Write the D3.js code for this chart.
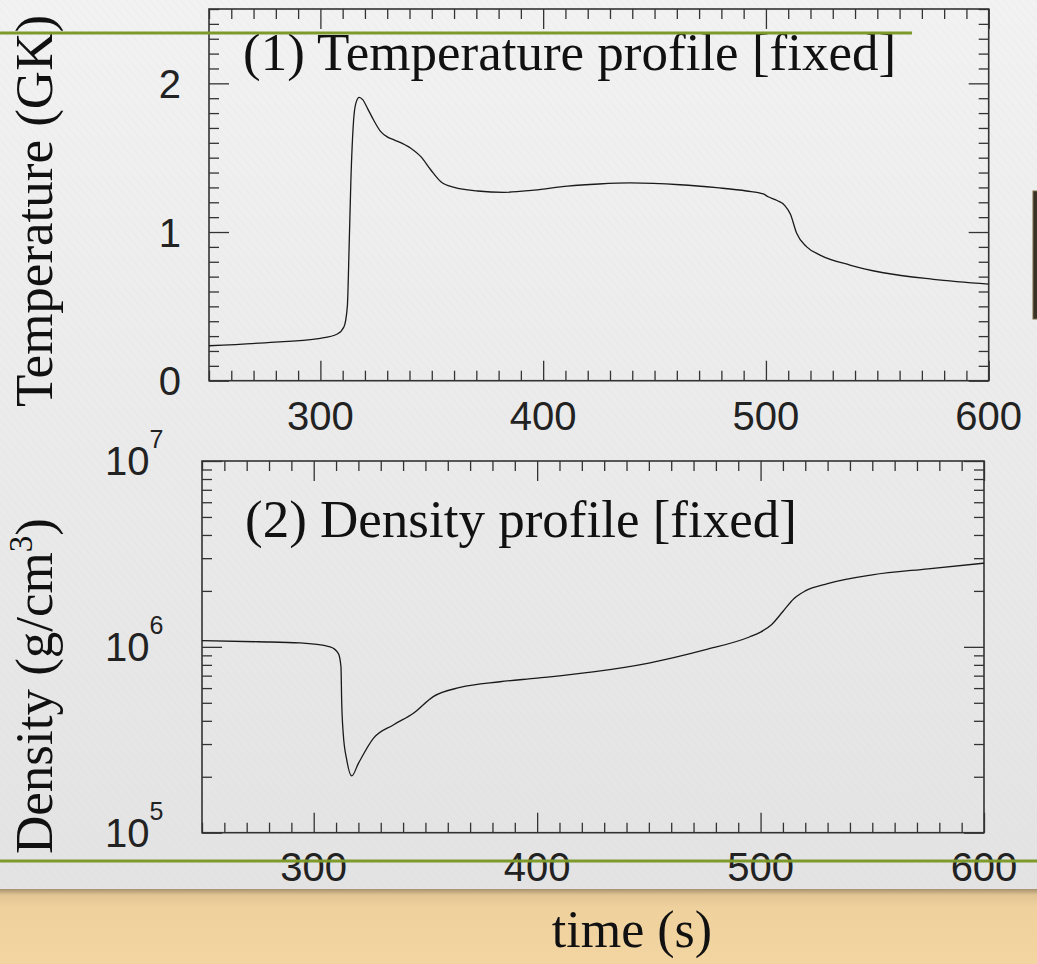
<!DOCTYPE html>
<html><head><meta charset="utf-8">
<script src="https://cdn.jsdelivr.net/npm/d3@7"></script>
<style>html,body{margin:0;padding:0;overflow:hidden;background:#eee}</style>
</head><body><svg id="c" width="1037" height="964"></svg>
<script>
// ---- data ----
const tempTime   = [250, 275, 300, 307.6, 310.6, 312.1, 312.9, 313.7, 314.9, 316, 317.4, 319, 321.2, 324, 327.1, 330, 333.1, 340.6, 345.1, 349.6, 354.1, 360.1, 370.6, 382.5, 396, 411, 425, 439, 461.4, 477.9, 491.3, 498.8, 501, 505, 508.5, 511, 513.8, 518.3, 524.3, 537.7, 552.7, 575.2, 600];
const tempValues = [0.235, 0.255, 0.285, 0.314, 0.363, 0.50, 0.90, 1.35, 1.75, 1.87, 1.906, 1.89, 1.83, 1.75, 1.675, 1.64, 1.62, 1.563, 1.507, 1.417, 1.338, 1.30, 1.276, 1.267, 1.282, 1.309, 1.323, 1.33, 1.318, 1.298, 1.276, 1.256, 1.237, 1.212, 1.178, 1.12, 0.991, 0.90, 0.845, 0.778, 0.726, 0.682, 0.65];
const densTime   = [250, 275, 293.9, 307.3, 311, 312.2, 312.5, 313.2, 314.8, 317, 320, 326.7, 335.6, 344.6, 353.5, 365.5, 383.4, 400, 425, 450, 475, 495, 500, 505, 510, 515, 520, 530, 550, 575, 600];
const densValues = [1.08e6, 1.065e6, 1.05e6, 1.0e6, 9.23e5, 7.82e5, 5.18e5, 3.43e5, 2.46e5, 2.02e5, 2.36e5, 3.22e5, 3.80e5, 4.39e5, 5.40e5, 6.05e5, 6.49e5, 6.79e5, 7.33e5, 8.18e5, 9.62e5, 1.13e6, 1.20e6, 1.32e6, 1.55e6, 1.82e6, 2.0e6, 2.19e6, 2.44e6, 2.63e6, 2.82e6];
const xTickLabels = [300, 400, 500, 600];
const tempTickLabels = [0, 1, 2];
const densTickExps = [5, 6, 7];
const title1 = "(1) Temperature profile [fixed]";
const title2 = "(2) Density profile [fixed]";

const svg = d3.select("#c");
const W = 1037, H = 964;

// ---- background ----
const defs = svg.append("defs");
const bg = defs.append("linearGradient").attr("id","bg").attr("x1",0).attr("y1",0).attr("x2",0).attr("y2",1);
bg.append("stop").attr("offset","0%").attr("stop-color","#f2f2f2");
bg.append("stop").attr("offset","100%").attr("stop-color","#e3e3e3");
const tan = defs.append("linearGradient").attr("id","tan").attr("x1",0).attr("y1",0).attr("x2",0).attr("y2",1);
tan.append("stop").attr("offset","0%").attr("stop-color","#a8916e");
tan.append("stop").attr("offset","8%").attr("stop-color","#e2c594");
tan.append("stop").attr("offset","25%").attr("stop-color","#efd19e");
tan.append("stop").attr("offset","100%").attr("stop-color","#f3d5a2");
const pat = defs.append("pattern").attr("id","tex").attr("width",6).attr("height",6).attr("patternUnits","userSpaceOnUse").attr("patternTransform","rotate(-40)");
pat.append("line").attr("x1",0).attr("y1",0).attr("x2",0).attr("y2",6).attr("stroke","#d8d8d8").attr("stroke-width",1).attr("opacity",0.35);

svg.append("rect").attr("width",W).attr("height",890).attr("fill","url(#bg)");
svg.append("rect").attr("width",W).attr("height",890).attr("fill","url(#tex)");
svg.append("rect").attr("y",889).attr("width",W).attr("height",H-889).attr("fill","url(#tan)");
// dark element at right edge
svg.append("rect").attr("x",1033).attr("y",191).attr("width",8).attr("height",128).attr("fill","#3a3224").attr("stroke","#7a6a4a").attr("stroke-width",1);

const frameColor = "#333", lineColor = "#1a1a1a";
const labelFont = "'Liberation Sans', Arial, sans-serif";
const serif = "'Liberation Serif', 'Times New Roman', serif";

function addTicks(g, axisFn, scale, values, size, transform){
  g.append("g").attr("transform", transform)
    .call(axisFn(scale).tickValues(values).tickSizeInner(-size).tickSizeOuter(0).tickFormat(""))
    .call(s => s.select(".domain").remove())
    .call(s => s.selectAll("line").attr("stroke", frameColor).attr("stroke-width", 1.3));
}

// ---- panel 1: temperature ----
const p1 = {l:209, t:9, r:988.7, b:380.7};
const x1 = d3.scaleLinear().domain([250,600]).range([p1.l,p1.r]);
const y1 = d3.scaleLinear().domain([0,2.5]).range([p1.b,p1.t]);
const g1 = svg.append("g");
const xMinor = d3.range(250, 601, 10).filter(v => v % 100 !== 0);
const xMajor = xTickLabels;
addTicks(g1, d3.axisBottom, x1, xMinor, 10, `translate(0,${p1.b})`);
addTicks(g1, d3.axisBottom, x1, xMajor, 20, `translate(0,${p1.b})`);
addTicks(g1, d3.axisTop, x1, xMinor, 10, `translate(0,${p1.t})`);
addTicks(g1, d3.axisTop, x1, xMajor, 20, `translate(0,${p1.t})`);
const yMinor1 = d3.range(0,26).map(i=>i/10).filter(v => Math.abs(v-Math.round(v))>1e-6);
addTicks(g1, d3.axisLeft, y1, yMinor1, 10, `translate(${p1.l},0)`);
addTicks(g1, d3.axisLeft, y1, tempTickLabels, 20, `translate(${p1.l},0)`);
addTicks(g1, d3.axisRight, y1, yMinor1, 10, `translate(${p1.r},0)`);
addTicks(g1, d3.axisRight, y1, tempTickLabels, 20, `translate(${p1.r},0)`);
g1.append("rect").attr("x",p1.l).attr("y",p1.t).attr("width",p1.r-p1.l).attr("height",p1.b-p1.t)
  .attr("fill","none").attr("stroke",frameColor).attr("stroke-width",1.6);
g1.append("path").datum(tempTime.map((t,i)=>[t,tempValues[i]]))
  .attr("d", d3.line().x(d=>x1(d[0])).y(d=>y1(d[1])).curve(d3.curveMonotoneX))
  .attr("fill","none").attr("stroke",lineColor).attr("stroke-width",1.3);
g1.selectAll("text.xl").data(xTickLabels).join("text").attr("class","xl")
  .attr("x", d=>x1(d)).attr("y", 430).attr("text-anchor","middle")
  .attr("font-family",labelFont).attr("font-size",40).attr("fill","#222").text(d=>d);
g1.selectAll("text.yl").data(tempTickLabels).join("text").attr("class","yl")
  .attr("x", 181).attr("y", d=>y1(d)+14.5).attr("text-anchor","end")
  .attr("font-family",labelFont).attr("font-size",40).attr("fill","#222").text(d=>d);
g1.append("text").attr("x",243).attr("y",70).attr("font-family",serif).attr("font-size",53).attr("fill","#111").text(title1);
g1.append("text").attr("transform","translate(52,211) rotate(-90)").attr("text-anchor","middle")
  .attr("font-family",serif).attr("font-size",53).attr("fill","#111").text("Temperature (GK)");

// ---- panel 2: density ----
const p2 = {l:202, t:461, r:984, b:832.7};
const x2 = d3.scaleLinear().domain([250,600]).range([p2.l,p2.r]);
const y2 = d3.scaleLog().domain([1e5,1e7]).range([p2.b,p2.t]);
const g2 = svg.append("g");
const yMajor2 = densTickExps.map(e => Math.pow(10,e));
const yMinor2 = [];
[1e5,1e6].forEach(b => { for (let k=2;k<=9;k++) yMinor2.push(k*b); });
addTicks(g2, d3.axisBottom, x2, xMinor, 10, `translate(0,${p2.b})`);
addTicks(g2, d3.axisBottom, x2, xMajor, 20, `translate(0,${p2.b})`);
addTicks(g2, d3.axisTop, x2, xMinor, 10, `translate(0,${p2.t})`);
addTicks(g2, d3.axisTop, x2, xMajor, 20, `translate(0,${p2.t})`);
addTicks(g2, d3.axisLeft, y2, yMinor2, 10, `translate(${p2.l},0)`);
addTicks(g2, d3.axisLeft, y2, yMajor2, 20, `translate(${p2.l},0)`);
addTicks(g2, d3.axisRight, y2, yMinor2, 10, `translate(${p2.r},0)`);
addTicks(g2, d3.axisRight, y2, yMajor2, 20, `translate(${p2.r},0)`);
g2.append("rect").attr("x",p2.l).attr("y",p2.t).attr("width",p2.r-p2.l).attr("height",p2.b-p2.t)
  .attr("fill","none").attr("stroke",frameColor).attr("stroke-width",1.6);
g2.append("path").datum(densTime.map((t,i)=>[t,densValues[i]]))
  .attr("d", d3.line().x(d=>x2(d[0])).y(d=>y2(d[1])).curve(d3.curveMonotoneX))
  .attr("fill","none").attr("stroke",lineColor).attr("stroke-width",1.3);

// bottom green line (behind labels)
svg.append("rect").attr("x",0).attr("y",859.5).attr("width",W).attr("height",3).attr("fill","#7d9a2b");

g2.selectAll("text.xl").data(xTickLabels).join("text").attr("class","xl")
  .attr("x", d=>x2(d)).attr("y", 881).attr("text-anchor","middle")
  .attr("font-family",labelFont).attr("font-size",40).attr("fill","#222").text(d=>d);
const yl2 = g2.selectAll("text.yl").data(densTickExps).join("text").attr("class","yl")
  .attr("x", 105).attr("y", d=>y2(Math.pow(10,d))+14).attr("text-anchor","start")
  .attr("font-family",labelFont).attr("font-size",40).attr("fill","#222");
yl2.append("tspan").text("10");
yl2.append("tspan").attr("font-size",25).attr("dy",-27).text(d=>d);
g2.append("text").attr("x",245).attr("y",537).attr("font-family",serif).attr("font-size",53).attr("fill","#111").text(title2);
const dl = g2.append("text").attr("transform","translate(52,686) rotate(-90)").attr("text-anchor","middle")
  .attr("font-family",serif).attr("font-size",53).attr("fill","#111");
dl.append("tspan").text("Density (g/cm");
dl.append("tspan").attr("font-size",33).attr("dy",-20).text("3");
dl.append("tspan").attr("dy",20).text(")");

// top green line (over frame)
svg.append("rect").attr("x",0).attr("y",31.5).attr("width",912).attr("height",3).attr("fill","#7d9a2b");

// x-axis title in tan band
svg.append("text").attr("x",632).attr("y",947).attr("text-anchor","middle")
  .attr("font-family",serif).attr("font-size",52).attr("fill","#111").text("time (s)");
</script></body></html>
